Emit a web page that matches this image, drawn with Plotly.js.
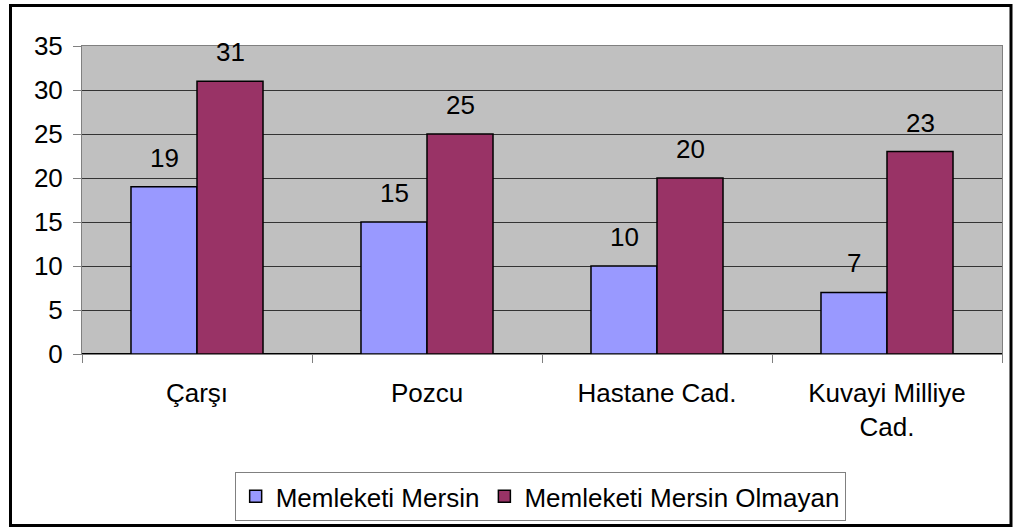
<!DOCTYPE html>
<html>
<head>
<meta charset="utf-8">
<script src="https://cdn.plot.ly/plotly-3.0.1.min.js"></script>
<style>html,body{margin:0;padding:0;background:#fff;}#chart{width:1021px;height:528px;}</style>
</head>
<body>
<div id="chart"></div>
<script>
const categories = ["Çarşı", "Pozcu", "Hastane Cad.", "Kuvayi Milliye<br>Cad."];
const seriesNames = ["Memleketi Mersin", "Memleketi Mersin Olmayan"];
const memleketiMersin = [19, 15, 10, 7];
const memleketiMersinOlmayan = [31, 25, 20, 23];
const yTicks = [0, 5, 10, 15, 20, 25, 30, 35];

const FONT = "Liberation Sans, Arial, sans-serif";
const FS = 26;
const colors = ["#9999FF", "#993366"];
const seriesData = [memleketiMersin, memleketiMersinOlmayan];

const traces = seriesData.map((vals, i) => ({
  type: "bar",
  name: seriesNames[i],
  x: categories,
  y: vals,
  marker: {color: colors[i], line: {color: "#000", width: 1.5}},
  hoverinfo: "none"
}));

const annotations = [];
seriesData.forEach((vals, i) => {
  vals.forEach((v, j) => {
    annotations.push({
      x: categories[j], y: v, xref: "x", yref: "y",
      text: String(v), showarrow: false,
      xshift: i === 0 ? -33 : 33, yshift: 12,
      yanchor: "bottom", xanchor: "center",
      font: {family: FONT, size: FS, color: "#000"}
    });
  });
});

const layout = {
  width: 1021, height: 528,
  margin: {l: 82, r: 19, t: 46, b: 174, autoexpand: false},
  paper_bgcolor: "#fff",
  plot_bgcolor: "#C0C0C0",
  font: {family: FONT, size: FS, color: "#000"},
  barmode: "group",
  bargap: 0.426,
  bargroupgap: 0,
  showlegend: true,
  legend: {
    orientation: "h", x: 0.498, xanchor: "center", y: -0.383, yanchor: "top",
    bordercolor: "#808080", borderwidth: 1, bgcolor: "#fff",
    font: {family: FONT, size: FS, color: "#000"},
    itemwidth: 30, tracegroupgap: 0
  },
  xaxis: {
    type: "category", automargin: false,
    showline: true, linecolor: "#808080", linewidth: 1, mirror: true,
    ticks: "outside", ticklen: 8, tickcolor: "#808080", tickwidth: 1,
    tickson: "boundaries",
    showgrid: false,
    ticklabelstandoff: 16,
    tickfont: {family: FONT, size: FS, color: "#000"}
  },
  yaxis: {
    range: [0, 35], automargin: false,
    tickvals: yTicks,
    ticktext: yTicks.map(String),
    showline: true, linecolor: "#808080", linewidth: 1, mirror: true,
    ticks: "outside", ticklen: 8, tickcolor: "#808080", tickwidth: 1,
    showgrid: true, gridcolor: "#333333", gridwidth: 1,
    zeroline: true, zerolinecolor: "#000", zerolinewidth: 1.5,
    ticklabelstandoff: 5,
    tickfont: {family: FONT, size: FS, color: "#000"}
  },
  annotations: annotations,
  shapes: [{
    type: "rect", xref: "paper", yref: "paper",
    x0: (10.5 - 82) / 920, x1: (1011 - 82) / 920,
    y0: (354 - 525.5) / 308, y1: (354 - 5.5) / 308,
    line: {color: "#000", width: 3}, fillcolor: "rgba(0,0,0,0)", layer: "above"
  }]
};

Plotly.newPlot("chart", traces, layout, {staticPlot: true, displayModeBar: false});
</script>
</body>
</html>
